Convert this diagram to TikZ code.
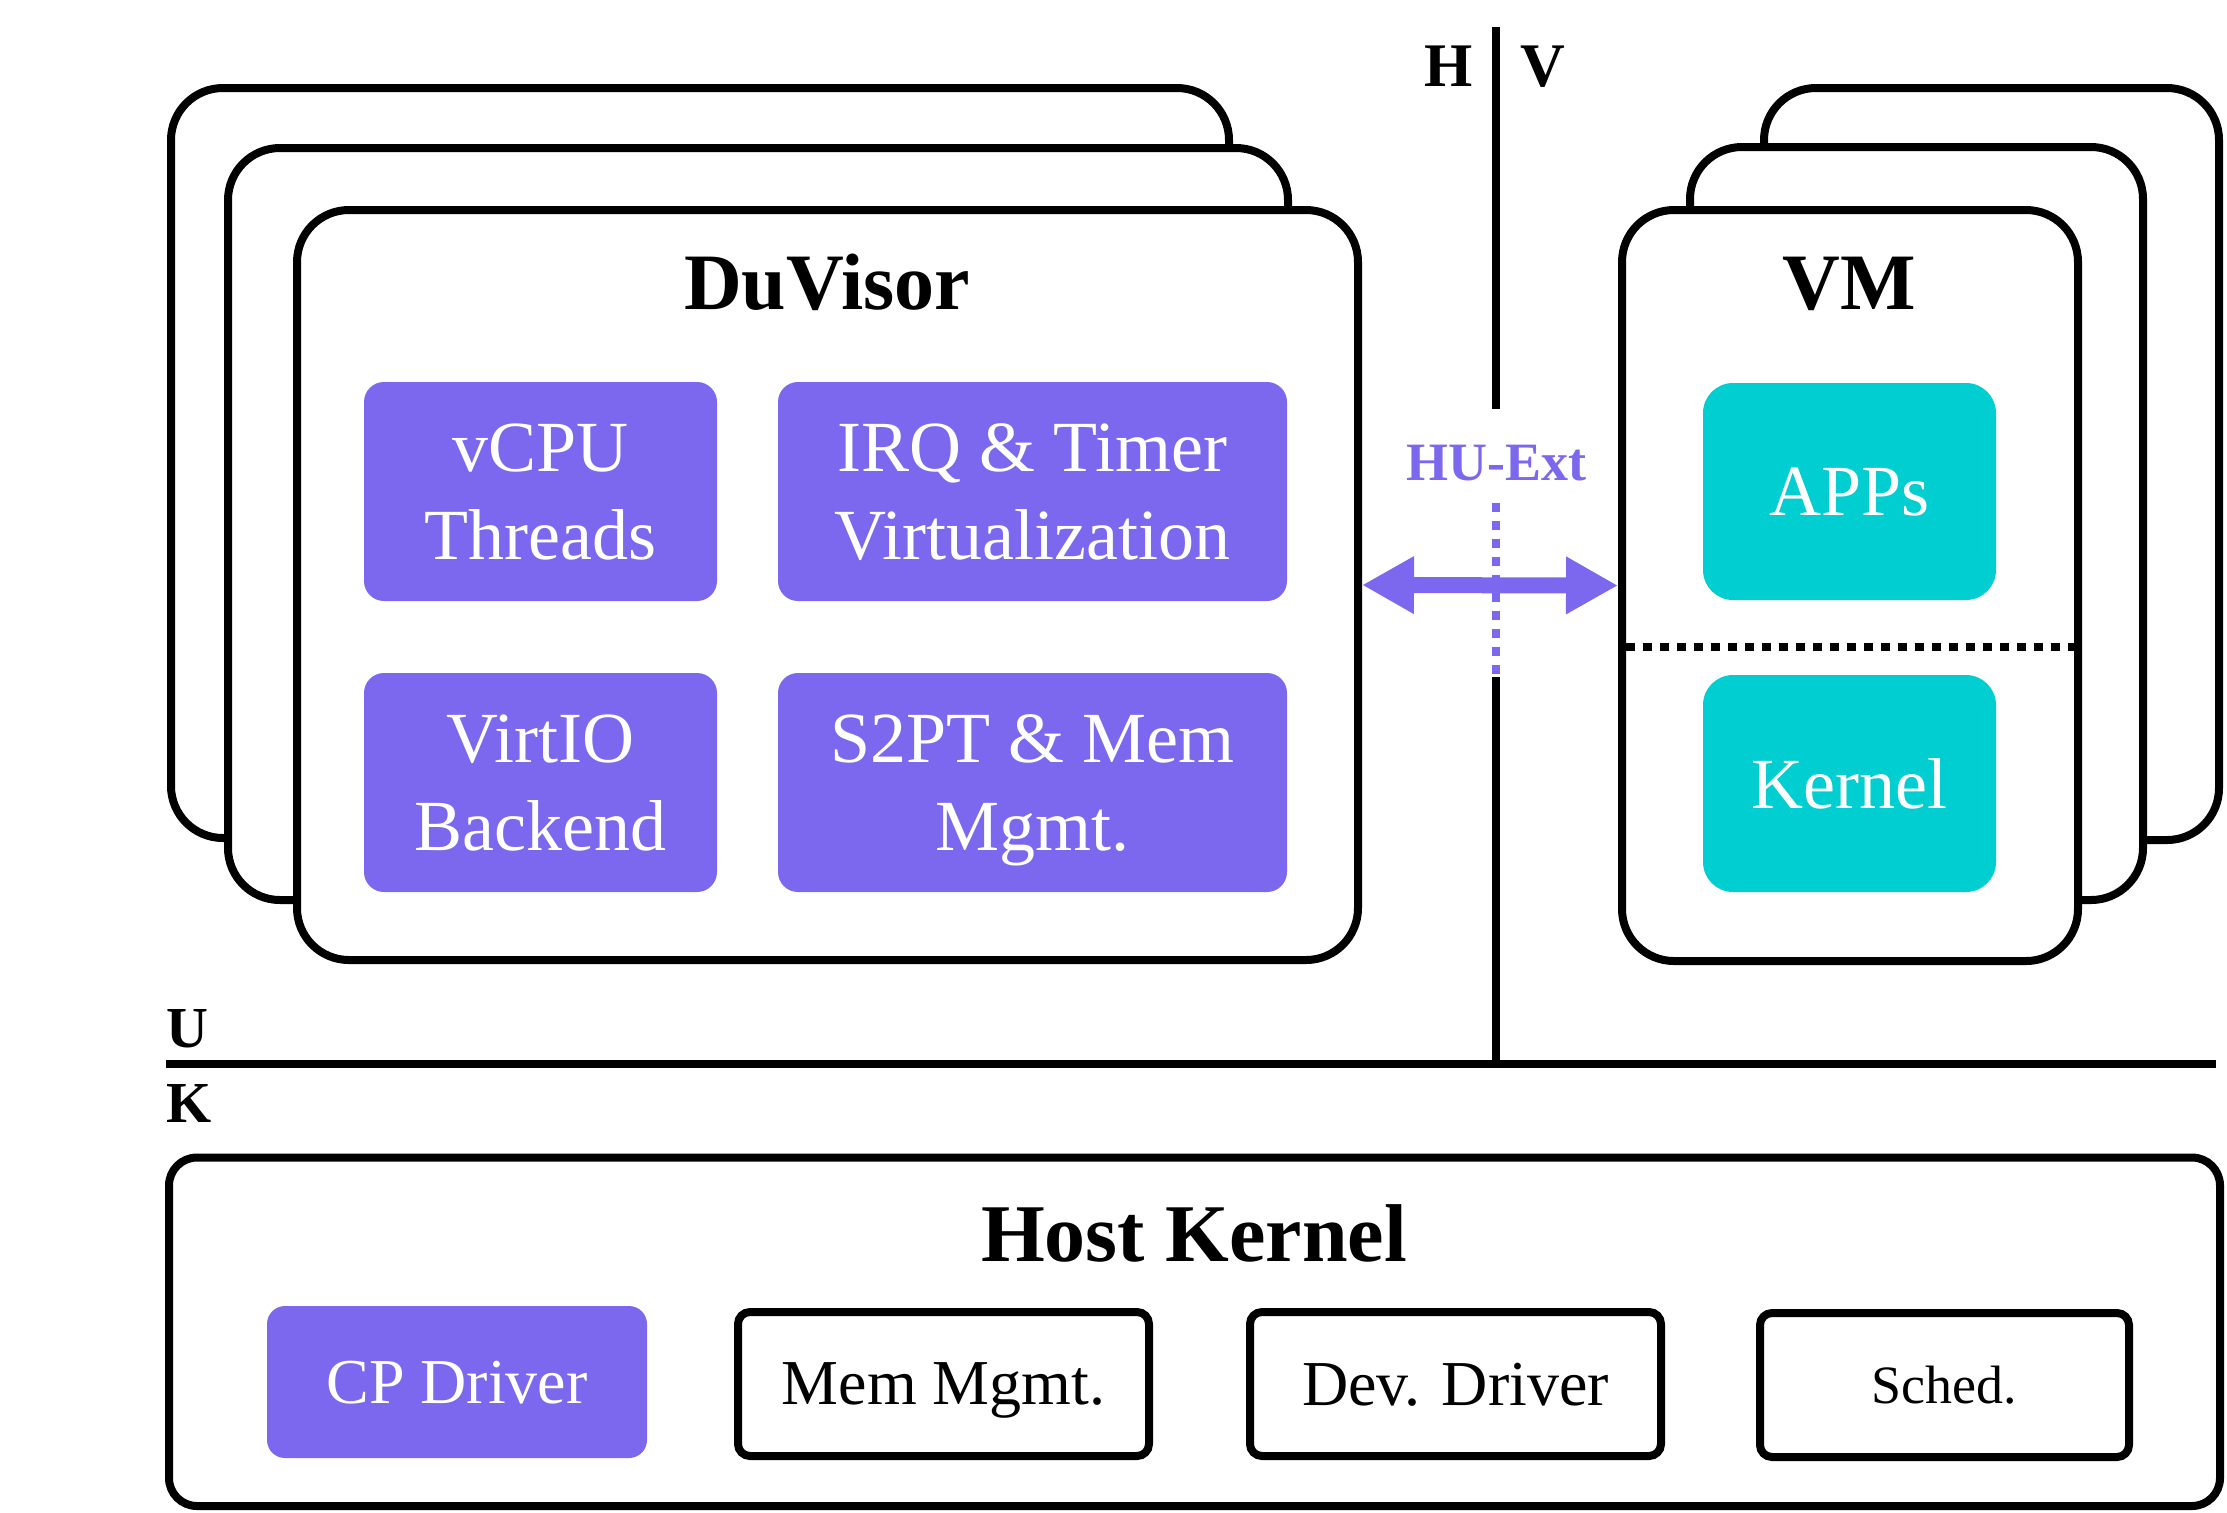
\documentclass[tikz,border=0pt]{standalone}
\usepackage{fontspec}
\setmainfont{Liberation Serif}
\usetikzlibrary{arrows.meta,calc}
\definecolor{hupurple}{HTML}{7B68EE}
\definecolor{hucyan}{HTML}{00CED1}
\begin{document}
\begin{tikzpicture}[x=0.5pt,y=-0.5pt,
  stackbox/.style={draw=black, line width=4pt, fill=white, rounded corners=26pt, inner sep=0pt},
  pbox/.style={fill=hupurple, text=white, rounded corners=10pt, inner sep=0pt, align=center,
               font=\fontsize{36}{44}\selectfont, text depth=-2pt},
  cbox/.style={fill=hucyan, text=white, rounded corners=15pt, inner sep=0pt, align=center,
               font=\fontsize{36}{44}\selectfont, text depth=-2pt},
  kbox/.style={draw=black, line width=4pt, fill=white, rounded corners=6pt, inner sep=0pt,
               font=\fontsize{32}{38}\selectfont, text depth=0pt},
  titletext/.style={font=\bfseries\fontsize{40}{48}\selectfont, anchor=base, inner sep=0pt},
  sidelabel/.style={font=\bfseries\fontsize{30}{36}\selectfont, anchor=base, inner sep=0pt},
  sepline/.style={draw=black, line width=4pt},
  hudots/.style={draw=hupurple, line width=4pt, dash pattern=on 4.5pt off 4.5pt},
  vmdots/.style={draw=black, line width=4pt, dash pattern=on 4.5pt off 4pt},
  huarrow/.style={draw=hupurple, line width=8pt,
                  {Triangle[length=26pt,width=27pt]}-{Triangle[length=26pt,width=27pt]}}
]
\useasboundingbox (0,0) rectangle (2227,1512);

% DuVisor stack
\node[stackbox, minimum width=529pt, minimum height=375pt] (duC) at (700,463) {};
\node[stackbox, minimum width=530pt, minimum height=376pt] (duB) at (758,524) {};
\node[stackbox, minimum width=530.5pt, minimum height=375pt] (duF) at (827.5,585) {};
\node[titletext] (duT) at (827,309) {DuVisor};

\node[pbox, minimum width=176.5pt, minimum height=109.5pt] (vcpu) at (540.5,491.5) {vCPU\\Threads};
\node[pbox, minimum width=254.5pt, minimum height=109.5pt] (irq) at (1032.5,491.5) {IRQ \& Timer\\Virtualization};
\node[pbox, minimum width=176.5pt, minimum height=109.5pt] (virtio) at (540.5,782.5) {VirtIO\\Backend};
\node[pbox, minimum width=254.5pt, minimum height=109.5pt] (s2pt) at (1032.5,782.5) {S2PT \& Mem\\Mgmt.};

% VM stack
\node[stackbox, minimum width=227.5pt, minimum height=376pt] (vmC) at (1991.5,464) {};
\node[stackbox, minimum width=226.5pt, minimum height=376.5pt] (vmB) at (1916.5,523.5) {};
\node[stackbox, minimum width=228pt, minimum height=375.5pt] (vmF) at (1850,585.5) {};
\node[titletext] (vmT) at (1849,309) {VM};

\node[cbox, minimum width=146.5pt, minimum height=108.5pt] (apps) at (1849.5,491.5) {APPs};
\node[cbox, minimum width=146.5pt, minimum height=108.5pt] (gk) at (1849.5,783.5) {Kernel};

\coordinate (dl) at (1626,647);
\coordinate (dr) at (2074,647);
\draw[vmdots] (dl) -- (dr);

% H | V divider
\coordinate (hvTop) at (1496,27);
\coordinate (hvEnd) at (1496,409);
\coordinate (hudTop) at (1496,503);
\coordinate (hudBot) at (1496,677);
\coordinate (ukJoin) at (1496,1064);
\draw[sepline] (hvTop) -- (hvEnd);
\node[sidelabel, font=\bfseries\fontsize{31}{36}\selectfont] (hl) at (1449,86) {H};
\node[sidelabel, font=\bfseries\fontsize{31}{36}\selectfont] (vl) at (1543,86) {V};

\draw[huarrow] (duF.east) -- (vmF.west);
\draw[hudots] (hudTop) -- (hudBot);
\node[sidelabel, font=\bfseries\fontsize{27}{32}\selectfont, text=hupurple] (hu) at (1496,480) {HU-Ext};
\draw[sepline] (hudBot) -- (ukJoin);

% U / K line
\coordinate (ukL) at (166,1064);
\coordinate (ukR) at (2216,1064);
\draw[sepline] (ukL) -- (ukR);
\node[sidelabel, anchor=base west, font=\bfseries\fontsize{29}{34}\selectfont] (ul) at (166,1047) {U};
\node[sidelabel, anchor=base west, font=\bfseries\fontsize{29}{34}\selectfont] (kl) at (166,1122) {K};

% Host kernel
\node[draw=black, line width=4pt, fill=white, rounded corners=14pt, inner sep=0pt,
      minimum width=1025.5pt, minimum height=174.25pt] (hk) at (1194.5,1331.75) {};
\node[titletext, font=\bfseries\fontsize{41}{48}\selectfont] (hkT) at (1194,1261) {Host Kernel};

\node[pbox, font=\fontsize{32}{38}\selectfont, rounded corners=9pt, text depth=0pt,
      minimum width=190pt, minimum height=76pt] (cp) at (457,1382) {CP Driver};
\node[kbox, minimum width=205.5pt, minimum height=72pt] (mm) at (943.5,1384) {Mem Mgmt.};
\node[kbox, minimum width=205.5pt, minimum height=72pt] (dd) at (1455.5,1384) {Dev. Driver};
\node[kbox, font=\fontsize{27}{32}\selectfont, minimum width=184.5pt, minimum height=72pt] (sch) at (1944.5,1385) {Sched.};
\end{tikzpicture}
\end{document}
